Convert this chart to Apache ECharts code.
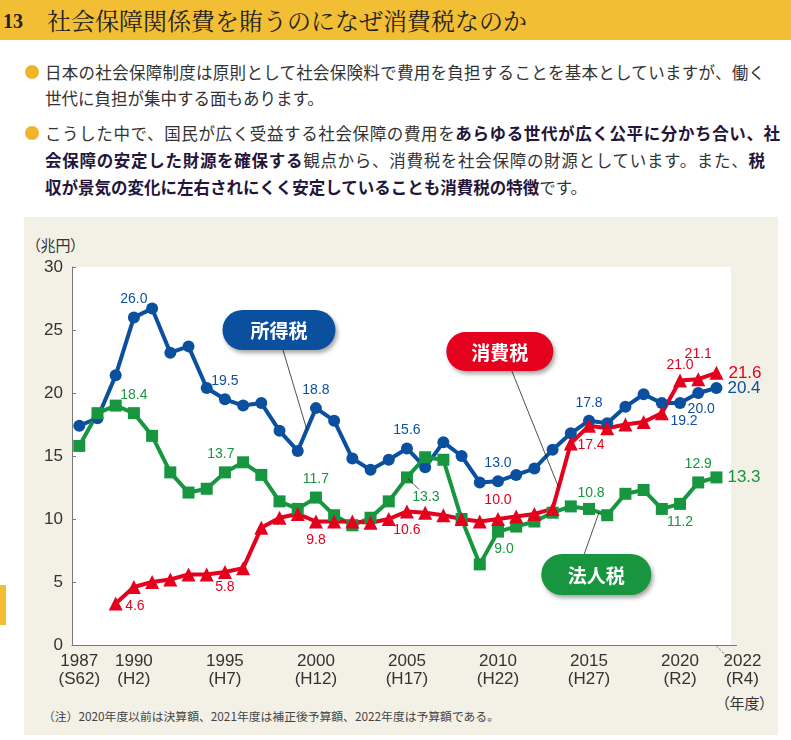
<!DOCTYPE html>
<html><head><meta charset="utf-8">
<script src="https://cdn.jsdelivr.net/npm/echarts@6/dist/echarts.min.js"></script>
<style>
html,body{margin:0;padding:0;width:791px;height:740px;overflow:hidden;background:#fff;font-family:"Noto Sans CJK JP",sans-serif;}
#hdr{position:absolute;left:0;top:0;width:791px;height:40px;background:#F2BE33;}
#hdr .num{position:absolute;left:3px;top:9px;font-family:"Liberation Serif","DejaVu Serif",serif;font-weight:bold;font-size:20px;line-height:24px;color:#222;}
#hdr .ttl{position:absolute;left:47px;top:4px;font-size:24px;line-height:32px;color:#222;font-family:"Noto Serif CJK JP","Noto Sans CJK JP",sans-serif;white-space:nowrap;}
.bul{position:absolute;left:25px;width:14px;height:14px;border-radius:7px;background:#F0B428;}
.ln{position:absolute;left:45px;font-size:16.5px;line-height:22px;height:22px;color:#333;white-space:nowrap;}
.ln.j{text-align:justify;text-align-last:justify;white-space:normal;overflow:hidden;}
.ln b{color:#24153a;font-weight:bold;}
#panel{position:absolute;left:24px;top:217px;width:754px;height:518px;background:#F3F0E6;}
#tab{position:absolute;left:0;top:585px;width:6px;height:40px;background:#F2BE33;}
.unit{position:absolute;font-size:15px;line-height:18px;color:#333;font-feature-settings:"palt";white-space:nowrap;}
#note{position:absolute;left:43px;top:708px;font-size:11.8px;line-height:16px;color:#444;white-space:nowrap;}
#chart{position:absolute;left:0;top:0;width:791px;height:740px;}
</style>
</head>
<body>
<div id="hdr"><div class="num">13</div><div class="ttl">社会保障関係費を賄うのになぜ消費税なのか</div></div>
<div class="bul" style="top:65px"></div>
<div class="ln j" style="top:61px;width:720px">日本の社会保障制度は原則として社会保険料で費用を負担することを基本としていますが、働く</div>
<div class="ln" style="top:87px">世代に負担が集中する面もあります。</div>
<div class="bul" style="top:126px"></div>
<div class="ln j" style="top:122px;width:735px">こうした中で、国民が広く受益する社会保障の費用を<b>あらゆる世代が広く公平に分かち合い、社</b></div>
<div class="ln j" style="top:149px;width:720px"><b>会保障の安定した財源を確保する</b>観点から、消費税を社会保障の財源としています。また、<b>税</b></div>
<div class="ln" style="top:176px"><b>収が景気の変化に左右されにくく安定していることも消費税の特徴</b>です。</div>
<div id="panel"></div>
<div id="tab"></div>
<div class="unit" style="left:33px;top:236px">（兆円）</div>
<div class="unit" style="left:722px;top:694px">（年度）</div>
<div id="note">（注）2020年度以前は決算額、2021年度は補正後予算額、2022年度は予算額である。</div>
<div id="chart"></div>
<script>
// ---- data ----
const years = [1987,1988,1989,1990,1991,1992,1993,1994,1995,1996,1997,1998,1999,2000,2001,2002,2003,2004,2005,2006,2007,2008,2009,2010,2011,2012,2013,2014,2015,2016,2017,2018,2019,2020,2021,2022];
const incomeTax = [17.4,18.0,21.4,26.0,26.7,23.2,23.7,20.4,19.5,19.0,19.2,17.0,15.4,18.8,17.8,14.8,13.9,14.7,15.6,14.1,16.1,15.0,12.9,13.0,13.5,14.0,15.5,16.8,17.8,17.6,18.9,19.9,19.2,19.2,20.0,20.4];
const corporateTax = [15.8,18.4,19.0,18.4,16.6,13.7,12.1,12.4,13.7,14.5,13.5,11.4,10.8,11.7,10.3,9.5,10.1,11.4,13.3,14.9,14.7,10.0,6.4,9.0,9.4,9.8,10.5,11.0,10.8,10.3,12.0,12.3,10.8,11.2,12.9,13.3];
const consumptionTax = [null,null,3.3,4.6,5.0,5.2,5.6,5.6,5.8,6.1,9.3,10.1,10.4,9.8,9.8,9.8,9.7,10.0,10.6,10.5,10.3,10.0,9.8,10.0,10.2,10.4,10.8,16.0,17.4,17.2,17.5,17.7,18.4,21.0,21.1,21.6];
const labeledYears = [1990,1995,2000,2005,2010,2015,2020,2021,2022];
const tickYears = [1987,1990,1995,2000,2005,2010,2015,2020,2022];
const eraLabels = ['S62','H2','H7','H12','H17','H22','H27','R2','R4'];
const seriesNames = ['所得税','法人税','消費税'];

// ---- styles ----
const BLUE = '#0B4F9F', GREEN = '#17963F', RED = '#E5001E';
const labelStyle = {
  income: {1990:{p:'top'},1995:{p:'top'},2000:{p:'top'},2005:{p:'top'},2010:{p:'top'},2015:{p:'top'},
           2020:{p:'bottom',o:[4,0]},2021:{p:'bottom',o:[3,-2]},2022:{p:'right',big:true}},
  corporate: {1990:{p:'top'},1995:{p:'top',o:[-4,0]},2000:{p:'top'},2005:{p:'bottom',o:[19,2]},2010:{p:'bottom',o:[6,0]},
           2015:{p:'top',o:[2,2]},2020:{p:'bottom'},2021:{p:'top'},2022:{p:'right',big:true}},
  consumption: {1990:{p:'bottom',o:[1,0]},1995:{p:'bottom',o:[0,-4]},2000:{p:'bottom'},2005:{p:'bottom'},2010:{p:'top'},
           2015:{p:'bottom',o:[2,0]},2020:{p:'top',o:[0,4]},2021:{p:'top',o:[0,-6]},2022:{p:'right',big:true}}
};
const NUMFONT = '"Liberation Sans", Arial, sans-serif';
const AXFONT = '"Liberation Sans Narrow","Liberation Sans",sans-serif';
const lastTick = tickYears.length - 1;
const tickText = (i)=> tickYears[i] + '\n(' + eraLabels[i] + ')';

function buildData(values, styles, color){
  const out = [];
  years.forEach((y,i)=>{
    const v = values[i];
    if (v == null) return;
    const item = {value:[y, v]};
    if (labeledYears.indexOf(y) >= 0) {
      const st = styles[y] || {};
      item.label = {show:true, position: st.p || 'top', offset: st.o || [0,0], distance: 5,
        formatter: v.toFixed(1), color: color, fontFamily: NUMFONT, fontSize: st.big ? 17 : 14};
    }
    out.push(item);
  });
  return out;
}
function mkSeries(name, values, styles, color, symbol, size){
  return {type:'line', name:name, xAxisIndex:0, data: buildData(values, styles, color), symbol: symbol, symbolSize: size,
    showAllSymbol:true, lineStyle:{color:color, width:4}, itemStyle:{color:color}, label:{show:false},
    emphasis:{disabled:true}};
}
const xBase = {type:'value', min:1986.6, max:2022.8, gridIndex:0, position:'bottom',
  axisTick:{show:false}, splitLine:{show:false}};

const chart = echarts.init(document.getElementById('chart'));
chart.setOption({
  animation:false,
  grid:{left:72, right:60, top:267, bottom:95, show:true, backgroundColor:'#fff', borderWidth:0},
  xAxis:[
    Object.assign({}, xBase, {
      axisLine:{show:true, lineStyle:{color:'#777', width:1}},
      axisLabel:{customValues: tickYears.slice(0, lastTick), hideOverlap:false,
        color:'#333', fontFamily:AXFONT, fontSize:17, lineHeight:18, margin:7,
        formatter:(v)=>{ const i = tickYears.indexOf(Math.round(v)); return i < 0 ? '' : tickText(i); }}
    }),
    // final year label, set off to the right (joined to the axis by a dashed leader)
    Object.assign({}, xBase, {
      axisLine:{show:false},
      axisLabel:{customValues: [tickYears[lastTick]], hideOverlap:false, align:'left',
        color:'#333', fontFamily:AXFONT, fontSize:17, lineHeight:18, margin:7,
        formatter:()=> '{s|' + tickYears[lastTick] + '}\n{s|(' + eraLabels[lastTick] + ')}',
        rich:{s:{color:'#333', fontFamily:AXFONT, fontSize:17, lineHeight:18, width:34, align:'center', padding:[0,0,0,9]}}}
    })
  ],
  yAxis:{type:'value', min:0, max:30, interval:5,
    axisLine:{show:true, lineStyle:{color:'#777'}},
    axisTick:{show:true, inside:true, length:4, lineStyle:{color:'#777'}},
    splitLine:{show:false},
    axisLabel:{color:'#333', fontSize:17, fontFamily:NUMFONT, margin:9}},
  series:[
    mkSeries(seriesNames[0], incomeTax, labelStyle.income, BLUE, 'circle', 12),
    mkSeries(seriesNames[1], corporateTax, labelStyle.corporate, GREEN, 'rect', 12),
    mkSeries(seriesNames[2], consumptionTax, labelStyle.consumption, RED, 'triangle', 14)
  ]
});

// ---- annotations, anchored in data coordinates ----
const P = (x,y)=>chart.convertToPixel({xAxisIndex:0, yAxisIndex:0},[x,y]);
function onLine(values, yr){ // interpolate along the series between two years
  const i = Math.floor(yr) - years[0], t = yr - Math.floor(yr);
  return values[i] + (values[i+1]-values[i])*t;
}
const callouts = [
  {text:seriesNames[0], color:BLUE, at:[1997.97,25.0], w:113, h:40, start:[4,20], to:[1999.5, onLine(incomeTax,1999.5)]},
  {text:seriesNames[2], color:RED, at:[2010.1,23.3], w:107, h:39, start:[12,19.5], to:[2013.33, onLine(consumptionTax,2013.33)]},
  {text:seriesNames[1], color:GREEN, at:[2015.4,5.6], w:110, h:41, start:[-12,-20.5], to:[2015.55, onLine(corporateTax,2015.55)]}
];
const g = [];
callouts.forEach(c=>{
  const ctr = P(c.at[0], c.at[1]);
  const end = P(c.to[0], c.to[1]);
  g.push({type:'line', z:90, shape:{x1:ctr[0]+c.start[0], y1:ctr[1]+c.start[1], x2:end[0], y2:end[1]},
    style:{stroke:'#222', lineWidth:0.8}});
  g.push({type:'rect', z:100, shape:{x:ctr[0]-c.w/2, y:ctr[1]-c.h/2, width:c.w, height:c.h, r:c.h/2},
    style:{fill:c.color, shadowBlur:4, shadowOffsetX:2, shadowOffsetY:3, shadowColor:'rgba(0,0,0,0.35)'}});
  g.push({type:'text', z:101, x:ctr[0], y:ctr[1]+1,
    style:{text:c.text, fill:'#fff', font:'bold 19px "Noto Sans CJK JP", sans-serif', align:'center', verticalAlign:'middle'}});
});
// leader for 13.3 (corporate 2005)
const p05 = P(2005, corporateTax[years.indexOf(2005)]);
g.push({type:'line', z:95, shape:{x1:p05[0]+1, y1:p05[1]+1, x2:p05[0]+12, y2:p05[1]+12}, style:{stroke:'#222', lineWidth:0.8}});
// dashed leader from 2022 on axis to its offset label
const a22 = P(2022, 0);
g.push({type:'line', z:95, shape:{x1:a22[0], y1:a22[1]+1, x2:a22[0]+14, y2:a22[1]+15}, style:{stroke:'#555', lineWidth:1, lineDash:[2,2]}});
// axis line small extension beyond plot
const aEnd = P(2022.8, 0);
g.push({type:'line', z:95, shape:{x1:aEnd[0], y1:aEnd[1]+0.5, x2:aEnd[0]+6, y2:aEnd[1]+0.5}, style:{stroke:'#777', lineWidth:1}});
chart.setOption({graphic:g});
</script>
</body></html>
